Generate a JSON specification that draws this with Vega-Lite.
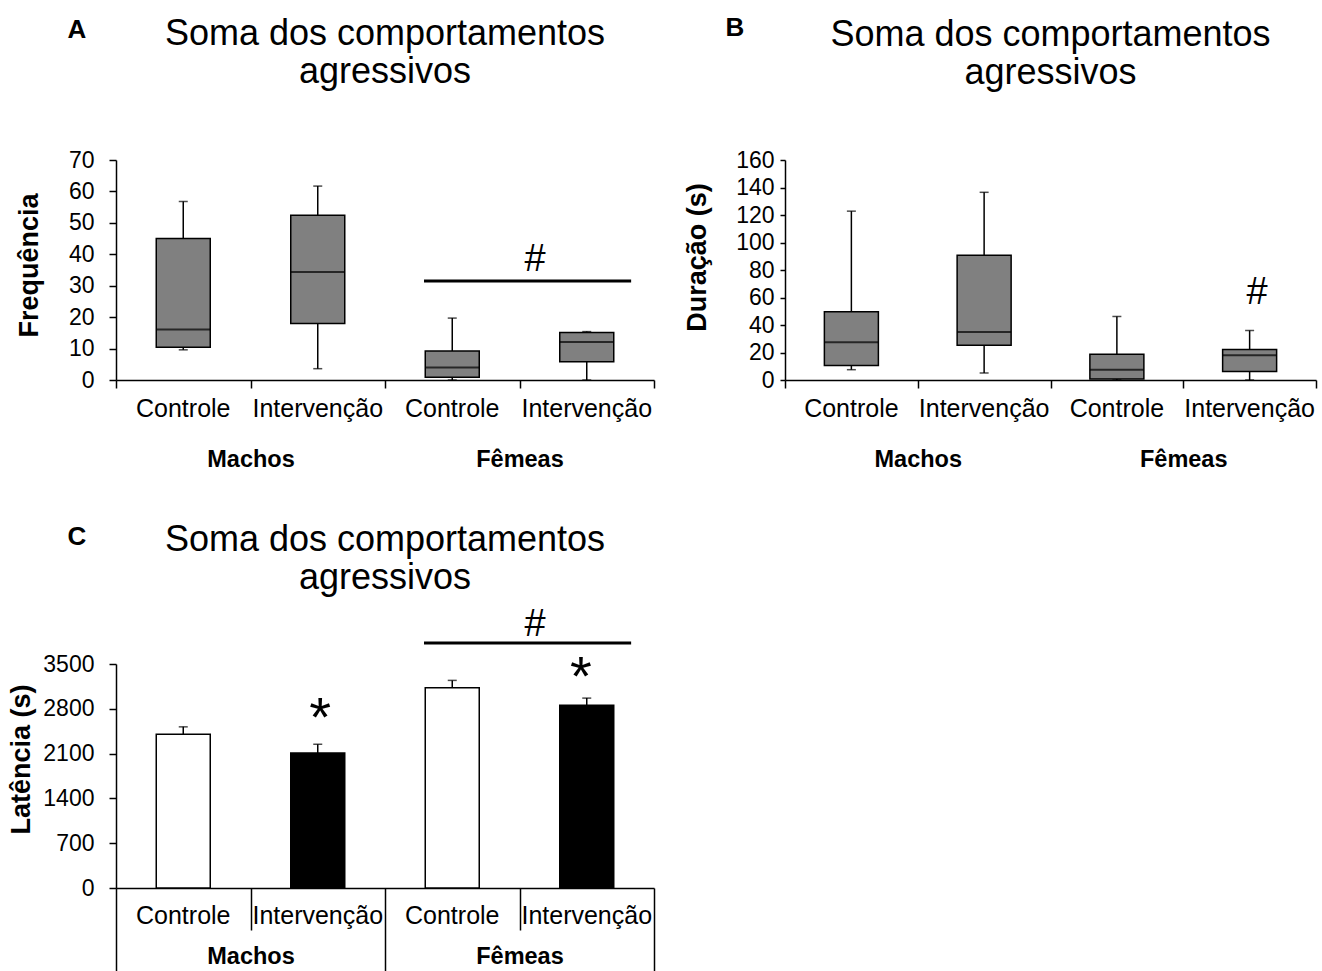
{
  "$schema": "https://vega.github.io/schema/vega-lite/v6.json",
  "autosize": {"type": "pad"},
  "padding": {"left": 7, "top": 14, "right": 5, "bottom": 0},
  "background": "white",
  "config": {
    "font": "Liberation Sans",
    "view": {"stroke": null},
    "axis": {"domainColor": "black", "tickColor": "black", "labelColor": "black", "titleColor": "black", "grid": false, "labelFont": "Liberation Sans", "titleFont": "Liberation Sans", "domainWidth": 1.5, "tickWidth": 1.5},
    "text": {"color": "black", "font": "Liberation Sans"}
  },
  "datasets": {
    "boxA": [
      {"sexo": "Machos", "grupo": "Controle", "min": 9.6, "q1": 10.4, "mediana": 16.1, "q3": 45.0, "max": 56.8},
      {"sexo": "Machos", "grupo": "Intervenção", "min": 3.6, "q1": 18.0, "mediana": 34.4, "q3": 52.4, "max": 61.7},
      {"sexo": "Fêmeas", "grupo": "Controle", "min": 0, "q1": 0.9, "mediana": 4.0, "q3": 9.2, "max": 19.7},
      {"sexo": "Fêmeas", "grupo": "Intervenção", "min": 0, "q1": 5.8, "mediana": 12.1, "q3": 15.1, "max": 15.4}
    ],
    "boxB": [
      {"sexo": "Machos", "grupo": "Controle", "min": 7.5, "q1": 10.5, "mediana": 27.5, "q3": 49.6, "max": 122.8},
      {"sexo": "Machos", "grupo": "Intervenção", "min": 5.1, "q1": 25.3, "mediana": 35.0, "q3": 90.7, "max": 136.5},
      {"sexo": "Fêmeas", "grupo": "Controle", "min": 0, "q1": 0.7, "mediana": 7.5, "q3": 18.7, "max": 46.2},
      {"sexo": "Fêmeas", "grupo": "Intervenção", "min": 0, "q1": 6.1, "mediana": 18.0, "q3": 22.1, "max": 36.0}
    ],
    "barC": [
      {"sexo": "Machos", "grupo": "Controle", "media": 2403, "ep": 115},
      {"sexo": "Machos", "grupo": "Intervenção", "media": 2110, "ep": 136},
      {"sexo": "Fêmeas", "grupo": "Controle", "media": 3129, "ep": 115},
      {"sexo": "Fêmeas", "grupo": "Intervenção", "media": 2857, "ep": 110}
    ]
  },
  "columns": 2,
  "spacing": {"row": 50, "column": 28},
  "concat": [
    {
      "width": 538,
      "height": 220,
      "resolve": {"scale": {"x": "independent"}},
      "layer": [
        {
          "data": {"name": "boxA"},
          "transform": [{"calculate": "datum.sexo + '|' + datum.grupo", "as": "categoria"}],
          "encoding": {
            "x": {"field": "categoria", "type": "nominal",
              "scale": {"domain": ["Machos|Controle", "Machos|Intervenção", "Fêmeas|Controle", "Fêmeas|Intervenção"], "paddingInner": 0, "paddingOuter": 0},
              "axis": {"orient": "bottom", "ticks": false, "tickSize": 0, "domain": true, "labelExpr": "split(datum.label, '|')[1]", "labelFontSize": 25, "labelPadding": 16, "labelAngle": 0, "labelOverlap": false, "title": null}}
          },
          "layer": [
            {"mark": {"type": "rule", "color": "black", "strokeWidth": 1.5},
              "encoding": {"y": {"field": "min", "type": "quantitative", "scale": {"domain": [0, 70], "nice": false, "zero": false},
                "axis": {"title": "Frequência", "values": [0, 10, 20, 30, 40, 50, 60, 70], "format": "d", "tickSize": 7, "labelPadding": 15, "labelFontSize": 23, "labelFlush": false, "labelOverlap": false, "titleFontSize": 27, "titleFontWeight": "bold", "titlePadding": 25, "titleY": 105}},
                "y2": {"field": "q1"}}},
            {"mark": {"type": "rule", "color": "black", "strokeWidth": 1.5},
              "encoding": {"y": {"field": "q3", "type": "quantitative", "scale": {"domain": [0, 70], "nice": false, "zero": false},
                "axis": {"title": "Frequência", "values": [0, 10, 20, 30, 40, 50, 60, 70], "format": "d", "tickSize": 7, "labelPadding": 15, "labelFontSize": 23, "labelFlush": false, "labelOverlap": false, "titleFontSize": 27, "titleFontWeight": "bold", "titlePadding": 25, "titleY": 105}},
                "y2": {"field": "max"}}},
            {"mark": {"type": "bar", "width": 54, "fill": "#808080", "stroke": "black", "strokeWidth": 1.5},
              "encoding": {"y": {"field": "q1", "type": "quantitative", "scale": {"domain": [0, 70], "nice": false, "zero": false},
                "axis": {"title": "Frequência", "values": [0, 10, 20, 30, 40, 50, 60, 70], "format": "d", "tickSize": 7, "labelPadding": 15, "labelFontSize": 23, "labelFlush": false, "labelOverlap": false, "titleFontSize": 27, "titleFontWeight": "bold", "titlePadding": 25, "titleY": 105}},
                "y2": {"field": "q3"}}},
            {"mark": {"type": "tick", "size": 54, "thickness": 2, "color": "black"},
              "encoding": {"y": {"field": "mediana", "type": "quantitative", "scale": {"domain": [0, 70], "nice": false, "zero": false},
                "axis": {"title": "Frequência", "values": [0, 10, 20, 30, 40, 50, 60, 70], "format": "d", "tickSize": 7, "labelPadding": 15, "labelFontSize": 23, "labelFlush": false, "labelOverlap": false, "titleFontSize": 27, "titleFontWeight": "bold", "titlePadding": 25, "titleY": 105}}}},
            {"mark": {"type": "tick", "size": 9, "thickness": 1.5, "color": "black"},
              "encoding": {"y": {"field": "max", "type": "quantitative", "scale": {"domain": [0, 70], "nice": false, "zero": false},
                "axis": {"title": "Frequência", "values": [0, 10, 20, 30, 40, 50, 60, 70], "format": "d", "tickSize": 7, "labelPadding": 15, "labelFontSize": 23, "labelFlush": false, "labelOverlap": false, "titleFontSize": 27, "titleFontWeight": "bold", "titlePadding": 25, "titleY": 105}}}},
            {"mark": {"type": "tick", "size": 9, "thickness": 1.5, "color": "black"},
              "encoding": {"y": {"field": "min", "type": "quantitative", "scale": {"domain": [0, 70], "nice": false, "zero": false},
                "axis": {"title": "Frequência", "values": [0, 10, 20, 30, 40, 50, 60, 70], "format": "d", "tickSize": 7, "labelPadding": 15, "labelFontSize": 23, "labelFlush": false, "labelOverlap": false, "titleFontSize": 27, "titleFontWeight": "bold", "titlePadding": 25, "titleY": 105}}}}
          ]
        },
        {
          "data": {"values": [{}]},
          "layer": [
            {"mark": {"type": "rule", "color": "black", "strokeWidth": 3},
              "encoding": {
                "x": {"datum": 2.29, "type": "quantitative", "scale": {"domain": [0, 4], "nice": false, "zero": false},
                  "axis": {"orient": "bottom", "values": [0, 1, 2, 3, 4], "tickSize": 8, "domain": false, "labelExpr": "datum.value == 1 ? 'Machos' : datum.value == 3 ? 'Fêmeas' : ''", "labelPadding": 59, "labelFontSize": 23.5, "labelFontWeight": "bold", "labelFlush": false, "labelOverlap": false, "labelBound": false, "labelAngle": 0, "title": null}},
                "x2": {"datum": 3.83},
                "y": {"datum": 31.5, "type": "quantitative", "scale": {"domain": [0, 70], "nice": false, "zero": false},
                  "axis": {"title": "Frequência", "values": [0, 10, 20, 30, 40, 50, 60, 70], "format": "d", "tickSize": 7, "labelPadding": 15, "labelFontSize": 23, "labelFlush": false, "labelOverlap": false, "titleFontSize": 27, "titleFontWeight": "bold", "titlePadding": 25, "titleY": 105}}}},
            {"mark": {"type": "text", "fontSize": 38, "baseline": "alphabetic", "align": "center"},
              "encoding": {
                "x": {"datum": 3.115, "type": "quantitative", "scale": {"domain": [0, 4], "nice": false, "zero": false}},
                "y": {"datum": 34.7, "type": "quantitative", "scale": {"domain": [0, 70], "nice": false, "zero": false},
                  "axis": {"title": "Frequência", "values": [0, 10, 20, 30, 40, 50, 60, 70], "format": "d", "tickSize": 7, "labelPadding": 15, "labelFontSize": 23, "labelFlush": false, "labelOverlap": false, "titleFontSize": 27, "titleFontWeight": "bold", "titlePadding": 25, "titleY": 105}},
                "text": {"value": "#"}}},
            {"mark": {"type": "text", "fontSize": 36, "lineHeight": 38, "baseline": "alphabetic", "align": "center"},
              "encoding": {
                "x": {"datum": 2, "type": "quantitative", "scale": {"domain": [0, 4], "nice": false, "zero": false}},
                "y": {"datum": 106.6, "type": "quantitative", "scale": {"domain": [0, 70], "nice": false, "zero": false},
                  "axis": {"title": "Frequência", "values": [0, 10, 20, 30, 40, 50, 60, 70], "format": "d", "tickSize": 7, "labelPadding": 15, "labelFontSize": 23, "labelFlush": false, "labelOverlap": false, "titleFontSize": 27, "titleFontWeight": "bold", "titlePadding": 25, "titleY": 105}},
                "text": {"value": ["Soma dos comportamentos", "agressivos"]}}},
            {"mark": {"type": "text", "fontSize": 26, "fontWeight": "bold", "baseline": "alphabetic", "align": "center"},
              "encoding": {
                "x": {"datum": -0.29, "type": "quantitative", "scale": {"domain": [0, 4], "nice": false, "zero": false}},
                "y": {"datum": 108.8, "type": "quantitative", "scale": {"domain": [0, 70], "nice": false, "zero": false},
                  "axis": {"title": "Frequência", "values": [0, 10, 20, 30, 40, 50, 60, 70], "format": "d", "tickSize": 7, "labelPadding": 15, "labelFontSize": 23, "labelFlush": false, "labelOverlap": false, "titleFontSize": 27, "titleFontWeight": "bold", "titlePadding": 25, "titleY": 105}},
                "text": {"value": "A"}}}
          ]
        }
      ]
    },
    {
      "width": 531,
      "height": 220,
      "resolve": {"scale": {"x": "independent"}},
      "layer": [
        {
          "data": {"name": "boxB"},
          "transform": [{"calculate": "datum.sexo + '|' + datum.grupo", "as": "categoria"}],
          "encoding": {
            "x": {"field": "categoria", "type": "nominal",
              "scale": {"domain": ["Machos|Controle", "Machos|Intervenção", "Fêmeas|Controle", "Fêmeas|Intervenção"], "paddingInner": 0, "paddingOuter": 0},
              "axis": {"orient": "bottom", "ticks": false, "tickSize": 0, "domain": true, "labelExpr": "split(datum.label, '|')[1]", "labelFontSize": 25, "labelPadding": 16, "labelAngle": 0, "labelOverlap": false, "title": null}}
          },
          "layer": [
            {"mark": {"type": "rule", "color": "black", "strokeWidth": 1.5},
              "encoding": {"y": {"field": "min", "type": "quantitative", "scale": {"domain": [0, 160], "nice": false, "zero": false},
                "axis": {"title": "Duração (s)", "values": [0, 20, 40, 60, 80, 100, 120, 140, 160], "format": "d", "tickSize": 5, "labelPadding": 6, "labelFontSize": 23, "labelFlush": false, "labelOverlap": false, "titleFontSize": 27, "titleFontWeight": "bold", "titlePadding": 24, "titleY": 97}},
                "y2": {"field": "q1"}}},
            {"mark": {"type": "rule", "color": "black", "strokeWidth": 1.5},
              "encoding": {"y": {"field": "q3", "type": "quantitative", "scale": {"domain": [0, 160], "nice": false, "zero": false},
                "axis": {"title": "Duração (s)", "values": [0, 20, 40, 60, 80, 100, 120, 140, 160], "format": "d", "tickSize": 5, "labelPadding": 6, "labelFontSize": 23, "labelFlush": false, "labelOverlap": false, "titleFontSize": 27, "titleFontWeight": "bold", "titlePadding": 24, "titleY": 97}},
                "y2": {"field": "max"}}},
            {"mark": {"type": "bar", "width": 54, "fill": "#808080", "stroke": "black", "strokeWidth": 1.5},
              "encoding": {"y": {"field": "q1", "type": "quantitative", "scale": {"domain": [0, 160], "nice": false, "zero": false},
                "axis": {"title": "Duração (s)", "values": [0, 20, 40, 60, 80, 100, 120, 140, 160], "format": "d", "tickSize": 5, "labelPadding": 6, "labelFontSize": 23, "labelFlush": false, "labelOverlap": false, "titleFontSize": 27, "titleFontWeight": "bold", "titlePadding": 24, "titleY": 97}},
                "y2": {"field": "q3"}}},
            {"mark": {"type": "tick", "size": 54, "thickness": 2, "color": "black"},
              "encoding": {"y": {"field": "mediana", "type": "quantitative", "scale": {"domain": [0, 160], "nice": false, "zero": false},
                "axis": {"title": "Duração (s)", "values": [0, 20, 40, 60, 80, 100, 120, 140, 160], "format": "d", "tickSize": 5, "labelPadding": 6, "labelFontSize": 23, "labelFlush": false, "labelOverlap": false, "titleFontSize": 27, "titleFontWeight": "bold", "titlePadding": 24, "titleY": 97}}}},
            {"mark": {"type": "tick", "size": 9, "thickness": 1.5, "color": "black"},
              "encoding": {"y": {"field": "max", "type": "quantitative", "scale": {"domain": [0, 160], "nice": false, "zero": false},
                "axis": {"title": "Duração (s)", "values": [0, 20, 40, 60, 80, 100, 120, 140, 160], "format": "d", "tickSize": 5, "labelPadding": 6, "labelFontSize": 23, "labelFlush": false, "labelOverlap": false, "titleFontSize": 27, "titleFontWeight": "bold", "titlePadding": 24, "titleY": 97}}}},
            {"mark": {"type": "tick", "size": 9, "thickness": 1.5, "color": "black"},
              "encoding": {"y": {"field": "min", "type": "quantitative", "scale": {"domain": [0, 160], "nice": false, "zero": false},
                "axis": {"title": "Duração (s)", "values": [0, 20, 40, 60, 80, 100, 120, 140, 160], "format": "d", "tickSize": 5, "labelPadding": 6, "labelFontSize": 23, "labelFlush": false, "labelOverlap": false, "titleFontSize": 27, "titleFontWeight": "bold", "titlePadding": 24, "titleY": 97}}}}
          ]
        },
        {
          "data": {"values": [{}]},
          "layer": [
            {"mark": {"type": "text", "fontSize": 38, "baseline": "alphabetic", "align": "center"},
              "encoding": {
                "x": {"datum": 3.556, "type": "quantitative", "scale": {"domain": [0, 4], "nice": false, "zero": false},
                  "axis": {"orient": "bottom", "values": [0, 1, 2, 3, 4], "tickSize": 8, "domain": false, "labelExpr": "datum.value == 1 ? 'Machos' : datum.value == 3 ? 'Fêmeas' : ''", "labelPadding": 59, "labelFontSize": 23.5, "labelFontWeight": "bold", "labelFlush": false, "labelOverlap": false, "labelBound": false, "labelAngle": 0, "title": null}},
                "y": {"datum": 55.3, "type": "quantitative", "scale": {"domain": [0, 160], "nice": false, "zero": false},
                  "axis": {"title": "Duração (s)", "values": [0, 20, 40, 60, 80, 100, 120, 140, 160], "format": "d", "tickSize": 5, "labelPadding": 6, "labelFontSize": 23, "labelFlush": false, "labelOverlap": false, "titleFontSize": 27, "titleFontWeight": "bold", "titlePadding": 24, "titleY": 97}},
                "text": {"value": "#"}}},
            {"mark": {"type": "text", "fontSize": 36, "lineHeight": 38, "baseline": "alphabetic", "align": "center"},
              "encoding": {
                "x": {"datum": 2, "type": "quantitative", "scale": {"domain": [0, 4], "nice": false, "zero": false}},
                "y": {"datum": 242.9, "type": "quantitative", "scale": {"domain": [0, 160], "nice": false, "zero": false},
                  "axis": {"title": "Duração (s)", "values": [0, 20, 40, 60, 80, 100, 120, 140, 160], "format": "d", "tickSize": 5, "labelPadding": 6, "labelFontSize": 23, "labelFlush": false, "labelOverlap": false, "titleFontSize": 27, "titleFontWeight": "bold", "titlePadding": 24, "titleY": 97}},
                "text": {"value": ["Soma dos comportamentos", "agressivos"]}}},
            {"mark": {"type": "text", "fontSize": 26, "fontWeight": "bold", "baseline": "alphabetic", "align": "center"},
              "encoding": {
                "x": {"datum": -0.377, "type": "quantitative", "scale": {"domain": [0, 4], "nice": false, "zero": false}},
                "y": {"datum": 250.2, "type": "quantitative", "scale": {"domain": [0, 160], "nice": false, "zero": false},
                  "axis": {"title": "Duração (s)", "values": [0, 20, 40, 60, 80, 100, 120, 140, 160], "format": "d", "tickSize": 5, "labelPadding": 6, "labelFontSize": 23, "labelFlush": false, "labelOverlap": false, "titleFontSize": 27, "titleFontWeight": "bold", "titlePadding": 24, "titleY": 97}},
                "text": {"value": "B"}}}
          ]
        }
      ]
    },
    {
      "width": 538,
      "height": 224,
      "resolve": {"scale": {"x": "independent"}},
      "layer": [
        {
          "data": {"name": "barC"},
          "transform": [
            {"calculate": "datum.sexo + '|' + datum.grupo", "as": "categoria"},
            {"calculate": "datum.media + datum.ep", "as": "limite"}
          ],
          "encoding": {
            "x": {"field": "categoria", "type": "nominal",
              "scale": {"domain": ["Machos|Controle", "Machos|Intervenção", "Fêmeas|Controle", "Fêmeas|Intervenção"], "paddingInner": 0, "paddingOuter": 0},
              "axis": {"orient": "bottom", "ticks": false, "tickSize": 0, "domain": true, "labelExpr": "split(datum.label, '|')[1]", "labelFontSize": 25, "labelPadding": 15, "labelAngle": 0, "labelOverlap": false, "title": null}}
          },
          "layer": [
            {"mark": {"type": "rule", "color": "black", "strokeWidth": 1.5},
              "encoding": {"y": {"field": "media", "type": "quantitative", "scale": {"domain": [0, 3500], "nice": false, "zero": false},
                "axis": {"title": "Latência (s)", "values": [0, 700, 1400, 2100, 2800, 3500], "format": "d", "tickSize": 7, "labelPadding": 15, "labelFontSize": 23, "labelFlush": false, "labelOverlap": false, "titleFontSize": 27, "titleFontWeight": "bold", "titlePadding": 7, "titleY": 95}},
                "y2": {"field": "limite"}}},
            {"mark": {"type": "tick", "size": 9, "thickness": 1.5, "color": "black"},
              "encoding": {"y": {"field": "limite", "type": "quantitative", "scale": {"domain": [0, 3500], "nice": false, "zero": false},
                "axis": {"title": "Latência (s)", "values": [0, 700, 1400, 2100, 2800, 3500], "format": "d", "tickSize": 7, "labelPadding": 15, "labelFontSize": 23, "labelFlush": false, "labelOverlap": false, "titleFontSize": 27, "titleFontWeight": "bold", "titlePadding": 7, "titleY": 95}}}},
            {"mark": {"type": "bar", "width": 54, "stroke": "black", "strokeWidth": 1.5},
              "encoding": {
                "y": {"field": "media", "type": "quantitative", "scale": {"domain": [0, 3500], "nice": false, "zero": false},
                  "axis": {"title": "Latência (s)", "values": [0, 700, 1400, 2100, 2800, 3500], "format": "d", "tickSize": 7, "labelPadding": 15, "labelFontSize": 23, "labelFlush": false, "labelOverlap": false, "titleFontSize": 27, "titleFontWeight": "bold", "titlePadding": 7, "titleY": 95}},
                "fill": {"field": "grupo", "type": "nominal", "scale": {"domain": ["Controle", "Intervenção"], "range": ["#ffffff", "#000000"]}, "legend": null}}}
          ]
        },
        {
          "data": {"values": [{}]},
          "layer": [
            {"mark": {"type": "rule", "color": "black", "strokeWidth": 3},
              "encoding": {
                "x": {"datum": 2.29, "type": "quantitative", "scale": {"domain": [0, 4], "nice": false, "zero": false},
                  "axis": {"orient": "bottom", "values": [0, 1, 2, 3, 4], "tickSize": {"condition": {"test": "datum.value == 1 || datum.value == 3", "value": 42}, "value": 83}, "domain": false, "labelExpr": "datum.value == 1 ? 'Machos' : datum.value == 3 ? 'Fêmeas' : ''", "labelPadding": 14, "labelFontSize": 23.5, "labelFontWeight": "bold", "labelFlush": false, "labelOverlap": false, "labelBound": false, "labelAngle": 0, "title": null}},
                "x2": {"datum": 3.83},
                "y": {"datum": 3828, "type": "quantitative", "scale": {"domain": [0, 3500], "nice": false, "zero": false},
                  "axis": {"title": "Latência (s)", "values": [0, 700, 1400, 2100, 2800, 3500], "format": "d", "tickSize": 7, "labelPadding": 15, "labelFontSize": 23, "labelFlush": false, "labelOverlap": false, "titleFontSize": 27, "titleFontWeight": "bold", "titlePadding": 7, "titleY": 95}}}},
            {"mark": {"type": "text", "fontSize": 38, "baseline": "alphabetic", "align": "center"},
              "encoding": {
                "x": {"datum": 3.115, "type": "quantitative", "scale": {"domain": [0, 4], "nice": false, "zero": false}},
                "y": {"datum": 3938, "type": "quantitative", "scale": {"domain": [0, 3500], "nice": false, "zero": false},
                  "axis": {"title": "Latência (s)", "values": [0, 700, 1400, 2100, 2800, 3500], "format": "d", "tickSize": 7, "labelPadding": 15, "labelFontSize": 23, "labelFlush": false, "labelOverlap": false, "titleFontSize": 27, "titleFontWeight": "bold", "titlePadding": 7, "titleY": 95}},
                "text": {"value": "#"}}},
            {"mark": {"type": "text", "fontSize": 56, "baseline": "alphabetic", "align": "center"},
              "encoding": {
                "x": {"datum": 1.517, "type": "quantitative", "scale": {"domain": [0, 4], "nice": false, "zero": false}},
                "y": {"datum": 2375, "type": "quantitative", "scale": {"domain": [0, 3500], "nice": false, "zero": false},
                  "axis": {"title": "Latência (s)", "values": [0, 700, 1400, 2100, 2800, 3500], "format": "d", "tickSize": 7, "labelPadding": 15, "labelFontSize": 23, "labelFlush": false, "labelOverlap": false, "titleFontSize": 27, "titleFontWeight": "bold", "titlePadding": 7, "titleY": 95}},
                "text": {"value": "*"}}},
            {"mark": {"type": "text", "fontSize": 56, "baseline": "alphabetic", "align": "center"},
              "encoding": {
                "x": {"datum": 3.457, "type": "quantitative", "scale": {"domain": [0, 4], "nice": false, "zero": false}},
                "y": {"datum": 3016, "type": "quantitative", "scale": {"domain": [0, 3500], "nice": false, "zero": false},
                  "axis": {"title": "Latência (s)", "values": [0, 700, 1400, 2100, 2800, 3500], "format": "d", "tickSize": 7, "labelPadding": 15, "labelFontSize": 23, "labelFlush": false, "labelOverlap": false, "titleFontSize": 27, "titleFontWeight": "bold", "titlePadding": 7, "titleY": 95}},
                "text": {"value": "*"}}},
            {"mark": {"type": "text", "fontSize": 36, "lineHeight": 38, "baseline": "alphabetic", "align": "center"},
              "encoding": {
                "x": {"datum": 2, "type": "quantitative", "scale": {"domain": [0, 4], "nice": false, "zero": false}},
                "y": {"datum": 5266, "type": "quantitative", "scale": {"domain": [0, 3500], "nice": false, "zero": false},
                  "axis": {"title": "Latência (s)", "values": [0, 700, 1400, 2100, 2800, 3500], "format": "d", "tickSize": 7, "labelPadding": 15, "labelFontSize": 23, "labelFlush": false, "labelOverlap": false, "titleFontSize": 27, "titleFontWeight": "bold", "titlePadding": 7, "titleY": 95}},
                "text": {"value": ["Soma dos comportamentos", "agressivos"]}}},
            {"mark": {"type": "text", "fontSize": 26, "fontWeight": "bold", "baseline": "alphabetic", "align": "center"},
              "encoding": {
                "x": {"datum": -0.29, "type": "quantitative", "scale": {"domain": [0, 4], "nice": false, "zero": false}},
                "y": {"datum": 5359, "type": "quantitative", "scale": {"domain": [0, 3500], "nice": false, "zero": false},
                  "axis": {"title": "Latência (s)", "values": [0, 700, 1400, 2100, 2800, 3500], "format": "d", "tickSize": 7, "labelPadding": 15, "labelFontSize": 23, "labelFlush": false, "labelOverlap": false, "titleFontSize": 27, "titleFontWeight": "bold", "titlePadding": 7, "titleY": 95}},
                "text": {"value": "C"}}}
          ]
        }
      ]
    }
  ]
}
